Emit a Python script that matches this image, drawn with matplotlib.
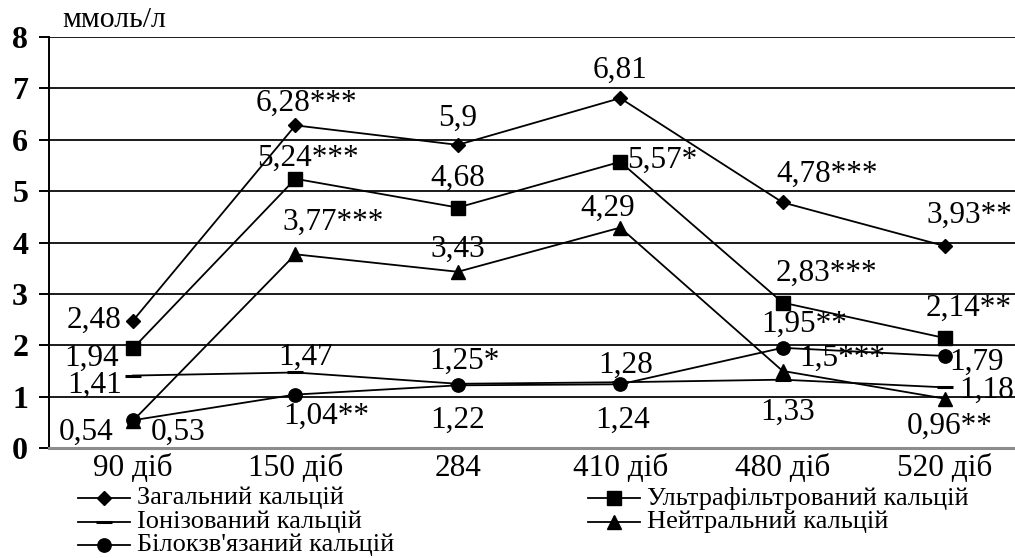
import matplotlib
matplotlib.use("Agg")
import matplotlib.pyplot as plt
from matplotlib.lines import Line2D

plt.rcParams['font.family'] = ['Liberation Serif', 'DejaVu Serif']

# --- data -----------------------------------------------------------------
categories = ["90 діб", "150 діб", "284", "410 діб", "480 діб", "520 діб"]

total_ca = [2.48, 6.28, 5.9, 6.81, 4.78, 3.93]
ultra_ca = [1.94, 5.24, 4.68, 5.57, 2.83, 2.14]
ionized_ca = [1.41, 1.47, 1.25, 1.28, 1.33, 1.18]
neutral_ca = [0.53, 3.77, 3.43, 4.29, 1.5, 0.96]
protein_ca = [0.54, 1.04, 1.22, 1.24, 1.95, 1.79]

# significance marks appended to the value labels
total_sig = ["", "***", "", "", "***", "**"]
ultra_sig = ["", "***", "", "*", "***", "**"]
ionized_sig = ["", "", "*", "", "", ""]
neutral_sig = ["", "***", "", "", "***", "**"]
protein_sig = ["", "**", "", "", "**", ""]

names = ["Загальний кальцій", "Ультрафільтрований кальцій",
         "Іонізований кальцій", "Нейтральний кальцій",
         "Білокзв'язаний кальцій"]

y_label = "ммоль/л"

# --- figure geometry (pixels) ---------------------------------------------
W, H = 1015, 558
fig = plt.figure(figsize=(W / 100, H / 100), dpi=100)

ax_left, ax_bottom_px, ax_top_px = 49, 448, 37
x0_px, step_px = 133, 162.4
ax_right = 1030
ax = fig.add_axes([ax_left / W, (H - ax_bottom_px) / H,
                   (ax_right - ax_left) / W, (ax_bottom_px - ax_top_px) / H])
ax.set_xlim((ax_left - x0_px) / step_px, (ax_right - x0_px) / step_px)
ax.set_ylim(0, 8)

x = list(range(len(categories)))

# horizontal grid
for yv in range(1, 9):
    ax.axhline(yv, color="#1a1a1a", lw=1.4, zorder=1)

styles = [
    dict(marker="D", ms=7.5),
    dict(marker="s", ms=10),
    dict(marker="_", ms=11, mew=2.2),
    dict(marker="^", ms=10),
    dict(marker="o", ms=9.6),
]
series = [total_ca, ultra_ca, ionized_ca, neutral_ca, protein_ca]
sigs = [total_sig, ultra_sig, ionized_sig, neutral_sig, protein_sig]

# label offsets in pixels (dx right, dy down)
offsets = [
    [(-39, 0), (11, -22), (0, -27), (0, -28), (45, -28), (24, -31)],
    [(-41, 10), (13, -20), (0, -29), (42, -2), (44, -29), (24, -30)],
    [(-38, 10), (10, -15), (7, -22), (5, -17), (5, 33), (42, 3)],
    [(45, 12), (38, -32), (0, -22), (-13, -19), (60, -13), (5, 28)],
    [(-47, 12), (31, 22), (0, 35), (2, 36), (22, -23), (32, 6)],
]

for vals, st, sg, offs in zip(series, styles, sigs, offsets):
    ax.plot(x, vals, color="black", lw=1.3, mfc="black", mec="black",
            zorder=3, clip_on=False, **st)
    for xi, v, s, (dx, dy) in zip(x, vals, sg, offs):
        txt = f"{v:g}".replace(".", ",") + s
        ax.annotate(txt, (xi, v), xytext=(dx, -dy), textcoords="offset pixels",
                    ha="center", va="center", fontsize=22.5, color="black",
                    zorder=4, annotation_clip=False)

# axes styling
for side in ("top", "right"):
    ax.spines[side].set_visible(False)
ax.spines["left"].set_color("black")
ax.spines["left"].set_linewidth(1.4)
ax.spines["bottom"].set_color("#8c8c8c")
ax.spines["bottom"].set_linewidth(2.2)

ax.set_yticks(range(9))
ax.set_yticklabels([str(i) for i in range(9)], fontsize=23, fontweight="bold")
ax.tick_params(axis="y", length=7, width=1.4, color="black", pad=8)
ax.set_xticks(x)
ax.set_xticklabels(categories, fontsize=22.5)
ax.tick_params(axis="x", length=0, pad=4)

fig.text(62 / W, 1 - 20 / H, y_label, ha="left", va="center", fontsize=21.5)

# legend drawn in figure pixels
legend_pos = [(78, 498), (588, 498), (78, 522), (588, 522), (78, 545)]
for (lx, ly), name, st in zip(legend_pos, names, styles):
    fy = 1 - ly / H
    fig.add_artist(Line2D([lx / W, (lx + 52) / W], [fy, fy], color="black",
                          lw=1.3, transform=fig.transFigure))
    fig.add_artist(Line2D([(lx + 26) / W], [fy], color="black", mfc="black",
                          mec="black", transform=fig.transFigure, **st))
    fig.text((lx + 59) / W, fy, name, ha="left", va="center", fontsize=19)

fig.savefig("out.png", dpi=100)
